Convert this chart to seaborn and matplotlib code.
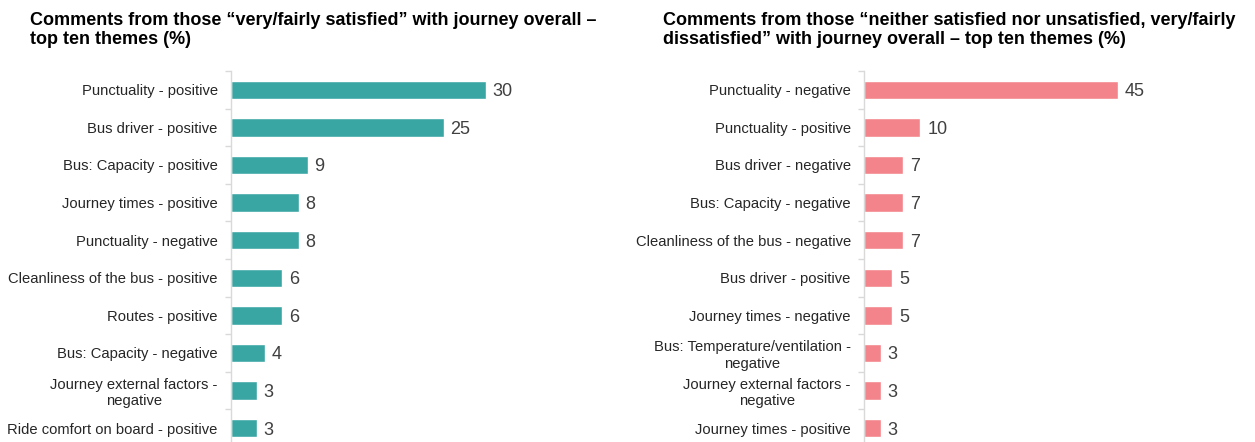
import matplotlib
matplotlib.use("Agg")
import matplotlib.pyplot as plt
import seaborn as sns
import pandas as pd

sat_themes = ["Punctuality - positive", "Bus driver - positive", "Bus: Capacity - positive",
              "Journey times - positive", "Punctuality - negative",
              "Cleanliness of the bus - positive", "Routes - positive",
              "Bus: Capacity - negative", "Journey external factors -\nnegative",
              "Ride comfort on board - positive"]
sat_values = [30, 25, 9, 8, 8, 6, 6, 4, 3, 3]

dis_themes = ["Punctuality - negative", "Punctuality - positive", "Bus driver - negative",
              "Bus: Capacity - negative", "Cleanliness of the bus - negative",
              "Bus driver - positive", "Journey times - negative",
              "Bus: Temperature/ventilation -\nnegative", "Journey external factors -\nnegative",
              "Journey times - positive"]
dis_values = [45, 10, 7, 7, 7, 5, 5, 3, 3, 3]

sat_title = "Comments from those \u201cvery/fairly satisfied\u201d with journey overall \u2013\ntop ten themes (%)"
dis_title = "Comments from those \u201cneither satisfied nor unsatisfied, very/fairly\ndissatisfied\u201d with journey overall \u2013 top ten themes (%)"

sns.set_theme(style="white")
plt.rcParams['font.family'] = ['Liberation Sans', 'DejaVu Sans']

fig = plt.figure(figsize=(12.55, 4.42), dpi=100)
W, H = 1255, 442

def make_ax(x0, x1):
    return fig.add_axes([x0 / W, (H - 447) / H, (x1 - x0) / W, (447 - 71) / H])

ax1 = make_ax(231, 600)
ax2 = make_ax(864, 1240)

for ax, themes, vals, color, xmax in [
    (ax1, sat_themes, sat_values, "#3AA6A4", 43.4),
    (ax2, dis_themes, dis_values, "#F3848B", 66.7),
]:
    df = pd.DataFrame({"theme": themes, "value": vals})
    sns.barplot(data=df, x="value", y="theme", ax=ax, color=color, saturation=1,
                width=0.49, orient="h")
    ax.set_xlim(0, xmax)
    ax.set_ylim(9.5, -0.5)
    ax.set_xlabel("")
    ax.set_ylabel("")
    ax.set_xticks([])
    for s in ["top", "right", "bottom"]:
        ax.spines[s].set_visible(False)
    ax.spines["left"].set_color("#D9D9D9")
    ax.spines["left"].set_linewidth(1)
    ax.tick_params(axis="y", which="major", length=0, pad=9.5, labelsize=10.6, labelcolor="#262626")
    ax.set_yticks([i + 0.5 for i in range(-1, 10)], minor=True)
    ax.tick_params(axis="y", which="minor", left=True, length=4, color="#D9D9D9", width=1)
    for lbl in ax.get_yticklabels():
        lbl.set_horizontalalignment("right")
        lbl.set_multialignment("center")
    for i, v in enumerate(vals):
        ax.text(v + xmax * 0.018, i, f"{v}", va="center_baseline", ha="left", fontsize=13, color="#404040")

fig.text(30 / W, 1 - 12 / H, sat_title, fontsize=13.0, fontweight="bold", va="top", ha="left", color="black", linespacing=1.12)
fig.text(663 / W, 1 - 12 / H, dis_title, fontsize=13.0, fontweight="bold", va="top", ha="left", color="black", linespacing=1.12)

fig.savefig("out.png", dpi=100)
